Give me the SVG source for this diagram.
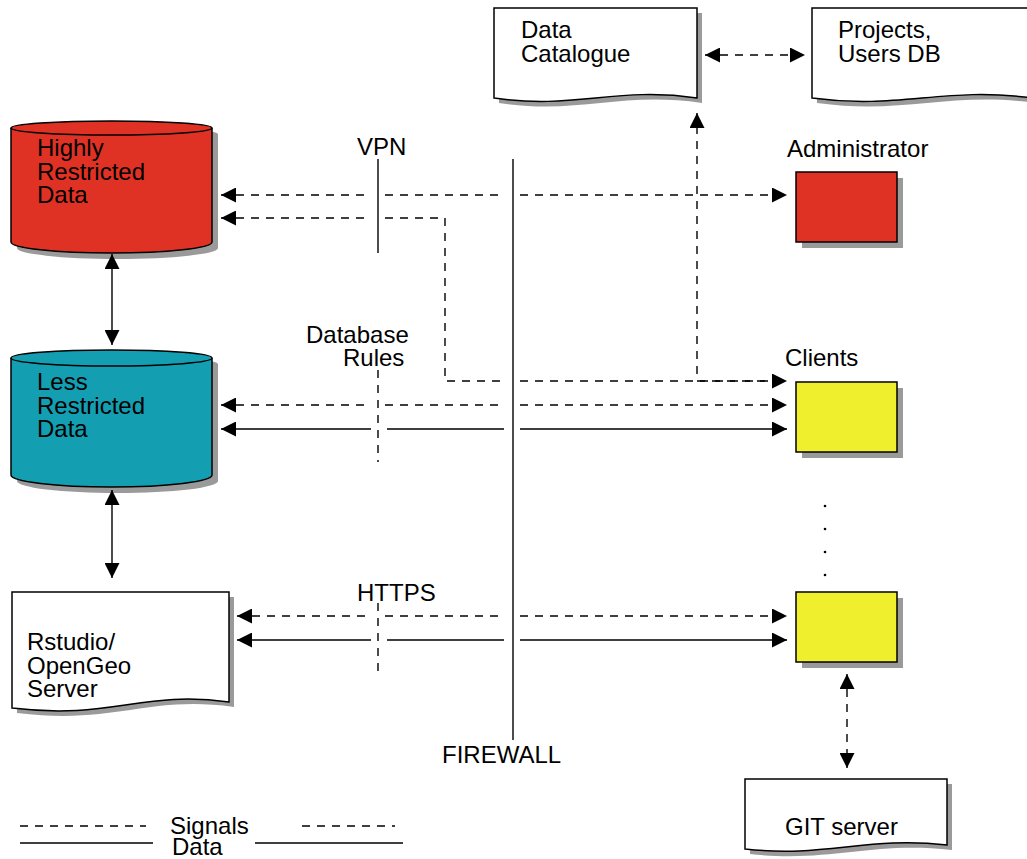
<svg xmlns="http://www.w3.org/2000/svg" width="1027" height="859" viewBox="0 0 1027 859">
<style>
  text { font-family: "Liberation Sans", Arial, sans-serif; font-size: 24px; fill: #000; }
  .shadow { fill: #9a9a9a; stroke: none; }
  .outline { stroke: #000; stroke-width: 1.5; }
  .doc { fill: #fff; stroke: #000; stroke-width: 1.5; }
  .sig { fill: none; stroke: #000; stroke-width: 1.4; stroke-dasharray: 8 7; }
  .dat { fill: none; stroke: #000; stroke-width: 1.4; }
  .arr { marker-start: url(#ah); marker-end: url(#ah); }
  .arrE { marker-end: url(#ah); }
</style>
<defs>
  <marker id="ah" viewBox="0 0 15 15" refX="15" refY="7.5" markerWidth="15" markerHeight="15" markerUnits="userSpaceOnUse" orient="auto-start-reverse">
    <path d="M0,0 L15,7.5 L0,15 Z" fill="#000"/>
  </marker>
</defs>
<rect width="1027" height="859" fill="#fff"/>

<g id="highly-restricted">
  <path class="shadow" d="M17,134 A100.5,7 0 0 1 218,134 V248 A100.5,11 0 0 1 17,248 Z"/>
  <path class="outline" fill="#e03224" d="M11,128 A100.5,7 0 0 1 212,128 V242 A100.5,11 0 0 1 11,242 Z"/>
  <path class="outline" fill="none" d="M11,128 A100.5,7 0 0 0 212,128"/>
  <text x="37" y="156">Highly</text>
  <text x="37" y="179.5">Restricted</text>
  <text x="37" y="203">Data</text>
</g>

<g id="less-restricted">
  <path class="shadow" d="M17,364 A100.5,8 0 0 1 218,364 V481 A100.5,12 0 0 1 17,481 Z"/>
  <path class="outline" fill="#139fb1" d="M11,358 A100.5,8 0 0 1 212,358 V475 A100.5,12 0 0 1 11,475 Z"/>
  <path class="outline" fill="none" d="M11,358 A100.5,8 0 0 0 212,358"/>
  <text x="37" y="390">Less</text>
  <text x="37" y="413.5">Restricted</text>
  <text x="37" y="437">Data</text>
</g>

<g id="rstudio">
  <path class="shadow" transform="translate(5,5)" d="M12,592 H229 V702 C142,690 112,720 12,708 Z"/>
  <path class="doc" d="M12,592 H229 V702 C142,690 112,720 12,708 Z"/>
  <text x="27" y="650">Rstudio/</text>
  <text x="27" y="673.5">OpenGeo</text>
  <text x="27" y="697">Server</text>
</g>

<g id="data-catalogue">
  <path class="shadow" transform="translate(5,5)" d="M494,8 H697 V98 C616,86 575,110 494,98 Z"/>
  <path class="doc" d="M494,8 H697 V98 C616,86 575,110 494,98 Z"/>
  <text x="521" y="38">Data</text>
  <text x="521" y="62">Catalogue</text>
</g>

<g id="projects-users-db">
  <path class="shadow" transform="translate(5,5)" d="M812,8 H1032 V98 C944,86 900,110 812,98 Z"/>
  <path class="doc" d="M812,8 H1032 V98 C944,86 900,110 812,98 Z"/>
  <text x="838" y="38">Projects,</text>
  <text x="838" y="62">Users DB</text>
</g>

<g id="administrator">
  <rect class="shadow" x="802" y="178" width="101" height="70"/>
  <rect class="outline" fill="#e03224" x="796" y="172" width="101" height="70"/>
  <text x="787" y="157">Administrator</text>
</g>

<g id="client-1">
  <rect class="shadow" x="802" y="388" width="101" height="70"/>
  <rect class="outline" fill="#f0ef2e" x="796" y="382" width="101" height="70"/>
  <text x="785" y="366">Clients</text>
</g>

<g id="client-ellipsis">
  <circle cx="825" cy="506" r="1.3" fill="#000"/>
  <circle cx="825" cy="529" r="1.3" fill="#000"/>
  <circle cx="825" cy="552" r="1.3" fill="#000"/>
  <circle cx="825" cy="575" r="1.3" fill="#000"/>
</g>

<g id="client-n">
  <rect class="shadow" x="802" y="598" width="101" height="70"/>
  <rect class="outline" fill="#f0ef2e" x="796" y="592" width="101" height="70"/>
</g>

<g id="git-server">
  <path class="shadow" transform="translate(5,5)" d="M745,779 H947 V845 C866,836 826,858 745,849 Z"/>
  <path class="doc" d="M745,779 H947 V845 C866,836 826,858 745,849 Z"/>
  <text x="785" y="835">GIT server</text>
</g>

<g id="boundaries">
  <line class="dat" x1="378" y1="159" x2="378" y2="253"/>
  <text x="357" y="155">VPN</text>
  <line class="sig" x1="378" y1="370" x2="378" y2="462"/>
  <text x="306" y="343">Database</text>
  <text x="343" y="366">Rules</text>
  <line class="sig" x1="378" y1="603" x2="378" y2="673"/>
  <text x="357" y="601">HTTPS</text>
  <line class="dat" x1="513" y1="159" x2="513" y2="740"/>
  <text x="442" y="763">FIREWALL</text>
</g>

<g id="connectors">
  <path class="sig arr" d="M221,195 H371 M385,195 H505 M520,195 H787"/>
  <path class="sig arr" d="M221,218 H371 M385,218 H445 V381 H505 M520,381 H787"/>
  <path class="sig arrE" d="M780,381 H697 V113"/>
  <path class="sig arr" d="M221,405 H371 M385,405 H505 M520,405 H787"/>
  <path class="dat arr" d="M221,429 H371 M387,429 H504 M520,429 H787"/>
  <path class="sig arr" d="M237,616 H371 M385,616 H505 M520,616 H787"/>
  <path class="dat arr" d="M237,640 H371 M387,640 H504 M520,640 H787"/>
  <path class="dat arr" d="M112,254 V345"/>
  <path class="dat arr" d="M112,490 V578"/>
  <path class="sig arr" d="M705,55 H805"/>
  <path class="sig arr" d="M847,674 V768"/>
</g>

<g id="legend">
  <line class="sig" x1="20" y1="826" x2="146" y2="826"/>
  <text x="170" y="834">Signals</text>
  <line class="sig" x1="302" y1="826" x2="395" y2="826"/>
  <line class="dat" x1="20" y1="843" x2="153" y2="843"/>
  <text x="172" y="855">Data</text>
  <line class="dat" x1="255" y1="843" x2="403" y2="843"/>
</g>
</svg>
